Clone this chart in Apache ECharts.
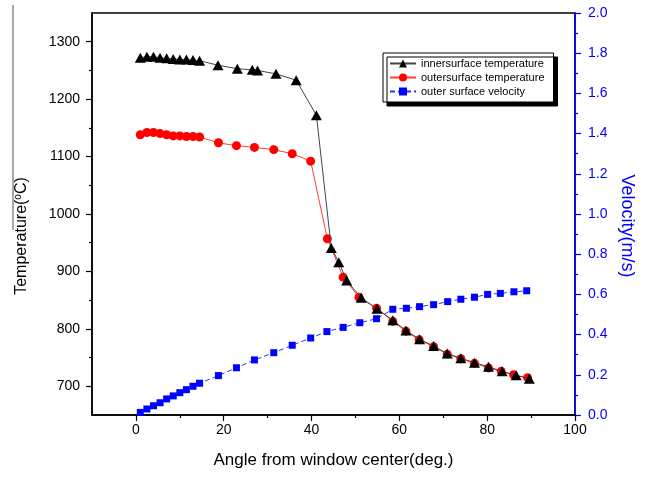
<!DOCTYPE html>
<html>
<head>
<meta charset="utf-8">
<script src="https://cdn.jsdelivr.net/npm/echarts@6/dist/echarts.min.js"></script>
<style>
  html, body { margin: 0; padding: 0; background: #fff; }
  #chart { width: 645px; height: 479px; }
</style>
</head>
<body>
<div id="chart"></div>
<script>
// inner surface temperature (black triangles)
const innerAngle = [1, 2.5, 4, 5.5, 7, 8.5, 10, 11.5, 13, 14.5, 18.7, 23.1, 26.5, 27.7, 31.9, 36.5, 41.1,
  44.5, 46.2, 48, 51.3, 54.9, 58.5, 61.5, 64.6, 67.8, 70.9, 74, 77.1, 80.3, 83.4, 86.6, 89.6];
const innerTemp = [1272, 1274, 1274, 1272, 1271, 1270, 1269, 1269, 1268, 1267, 1259, 1253, 1251, 1250, 1244, 1233, 1172,
  941, 916, 884, 854, 835, 815, 797, 782, 770, 757, 749, 741, 734, 726, 719, 713];

// outer surface temperature (red circles)
const outerAngle = [1, 2.5, 4, 5.5, 7, 8.5, 10, 11.5, 13, 14.5, 18.8, 22.9, 27, 31.4, 35.6, 39.8,
  43.6, 47.2, 50.8, 54.8, 58.5, 61.5, 64.5, 67.8, 70.9, 74, 77.1, 80.3, 83.2, 86, 89.2];
const outerTemp = [1138, 1142, 1142, 1140, 1138, 1136, 1136, 1135, 1135, 1134, 1124, 1119, 1116, 1112, 1105, 1092,
  957, 890, 855, 836, 813, 796, 781, 769, 756, 748, 740, 732, 726, 720, 715];

// outer surface velocity (blue squares)
const velAngle = [1, 2.5, 4, 5.5, 7, 8.5, 10, 11.5, 13, 14.5, 18.8, 22.9, 27, 31.4, 35.6, 39.8,
  43.5, 47.2, 51, 54.8, 58.5, 61.6, 64.6, 67.8, 71, 74, 77.1, 80.1, 83, 86.1, 89];
const velocity = [0.013, 0.030, 0.046, 0.061, 0.080, 0.095, 0.111, 0.126, 0.143, 0.158, 0.196, 0.235, 0.274, 0.31, 0.347, 0.383,
  0.415, 0.436, 0.459, 0.479, 0.526, 0.531, 0.539, 0.549, 0.564, 0.576, 0.586, 0.600, 0.605, 0.613, 0.618];

const xTicks = [0, 20, 40, 60, 80, 100];
const xMinorTicks = [10, 30, 50, 70, 90];
const tempTicks = [700, 800, 900, 1000, 1100, 1200, 1300];
const tempMinorTicks = [750, 850, 950, 1050, 1150, 1250];

const names = ['innersurface temperature', 'outersurface temperature', 'outer surface velocity'];

const pairs = (xs, ys) => xs.map((x, i) => [x, ys[i]]);

const FONT = '"Liberation Sans", Arial, sans-serif';
const chart = echarts.init(document.getElementById('chart'));

chart.setOption({
  animation: false,
  textStyle: { fontFamily: FONT },
  grid: {
    left: 92, right: 70, top: 13, bottom: 64,
    show: true, borderColor: '#000', borderWidth: 1.5
  },
  legend: {
    data: names,
    orient: 'vertical',
    left: 383, top: 53,
    padding: [5, 9, 5, 6],
    itemGap: 3,
    itemWidth: 26, itemHeight: 10,
    backgroundColor: '#fff',
    borderColor: '#000', borderWidth: 1, borderRadius: 0,
    shadowColor: '#000', shadowOffsetX: 4, shadowOffsetY: 4, shadowBlur: 0,
    textStyle: { fontSize: 11, color: '#000', fontFamily: FONT }
  },
  xAxis: [
    {
      type: 'value', min: -10, max: 100,
      name: 'Angle from window center(deg.)',
      nameLocation: 'middle', nameGap: 37,
      nameTextStyle: { fontSize: 17, color: '#000', fontFamily: FONT },
      splitLine: { show: false },
      axisLine: { onZero: false, lineStyle: { color: '#000', width: 1.5 } },
      axisTick: { customValues: xTicks, length: 6, lineStyle: { color: '#000', width: 1.2 } },
      axisLabel: { customValues: xTicks, fontSize: 14, color: '#000', margin: 8, formatter: v => String(v) }
    },
    {
      type: 'value', min: -10, max: 100, position: 'bottom',
      splitLine: { show: false },
      axisLine: { show: false, onZero: false },
      axisTick: { customValues: xMinorTicks, length: 3, lineStyle: { color: '#000', width: 1.2 } },
      axisLabel: { show: false }
    }
  ],
  yAxis: [
    {
      type: 'value', min: 650, max: 1350, position: 'left',
      splitLine: { show: false },
      axisLine: { show: true, onZero: false, lineStyle: { color: '#000', width: 1.5 } },
      axisTick: { customValues: tempTicks, length: 6, lineStyle: { color: '#000', width: 1.2 } },
      axisLabel: { customValues: tempTicks, fontSize: 14, color: '#000', margin: 12, formatter: v => String(v) }
    },
    {
      type: 'value', min: 0, max: 2, interval: 0.2, position: 'right',
      splitLine: { show: false },
      axisLine: { show: true, onZero: false, lineStyle: { color: '#0000ff', width: 1.5 } },
      axisTick: { length: 6, lineStyle: { color: '#0000ff', width: 1.2 } },
      minorTick: { show: true, splitNumber: 2, length: 3, lineStyle: { color: '#0000ff', width: 1.2 } },
      axisLabel: { fontSize: 14, color: '#0000ff', margin: 13, formatter: v => v.toFixed(1) }
    },
    {
      type: 'value', min: 650, max: 1350, position: 'left',
      splitLine: { show: false },
      axisLine: { show: false, onZero: false },
      axisTick: { customValues: tempMinorTicks, length: 3, lineStyle: { color: '#000', width: 1.2 } },
      axisLabel: { show: false }
    }
  ],
  series: [
    {
      name: names[0], type: 'line', yAxisIndex: 0, z: 4,
      data: pairs(innerAngle, innerTemp),
      symbol: 'triangle', symbolSize: [11, 10],
      itemStyle: { color: '#000' },
      lineStyle: { color: '#444', width: 1 }
    },
    {
      name: names[1], type: 'line', yAxisIndex: 0, z: 3,
      data: pairs(outerAngle, outerTemp),
      symbol: 'circle', symbolSize: 9,
      itemStyle: { color: '#ff0000' },
      lineStyle: { color: '#ff3b3b', width: 1 }
    },
    {
      name: names[2], type: 'line', yAxisIndex: 1, z: 3,
      data: pairs(velAngle, velocity),
      symbol: 'rect', symbolSize: 7,
      itemStyle: { color: '#0000ff' },
      lineStyle: { color: '#3030ff', width: 1, type: [5, 3] }
    }
  ],
  graphic: [
    {
      type: 'line', shape: { x1: 13, y1: 5, x2: 13, y2: 230 },
      style: { stroke: '#555', lineWidth: 1 }
    },
    {
      type: 'text', x: 22, y: 236, rotation: Math.PI / 2,
      style: {
        text: 'Temperature({sup|o}C)',
        font: '16px ' + FONT, fill: '#000',
        align: 'center', verticalAlign: 'middle',
        rich: { sup: { fontSize: 10, fontFamily: FONT, fill: '#000', verticalAlign: 'top', lineHeight: 18 } }
      }
    },
    {
      type: 'text', x: 627, y: 226, rotation: -Math.PI / 2,
      style: {
        text: 'Velocity(m/s)',
        font: '18px ' + FONT, fill: '#0000ff',
        align: 'center', verticalAlign: 'middle'
      }
    }
  ]
});
</script>
</body>
</html>
